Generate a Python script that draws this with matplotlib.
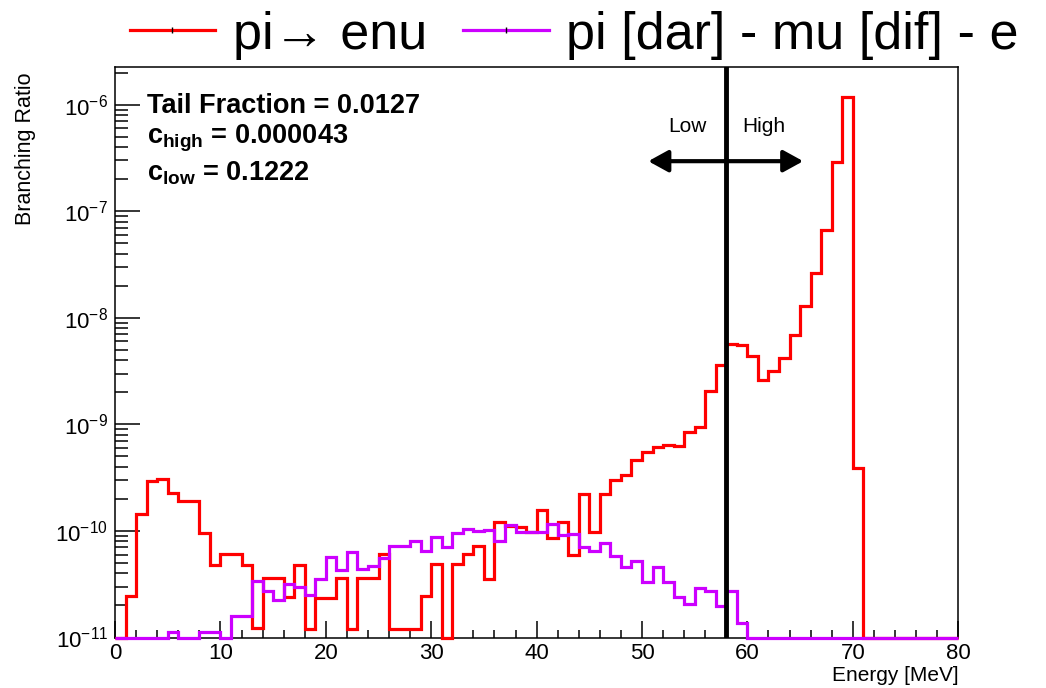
import numpy as np
import matplotlib
matplotlib.use("Agg")
import matplotlib.pyplot as plt
from matplotlib.lines import Line2D
from matplotlib.ticker import LogLocator, NullFormatter, MultipleLocator

plt.rcParams["font.family"] = ["Liberation Sans", "DejaVu Sans"]
plt.rcParams["mathtext.fontset"] = "custom"
plt.rcParams["mathtext.rm"] = "Liberation Sans"
plt.rcParams["mathtext.it"] = "Liberation Sans:italic"
plt.rcParams["mathtext.bf"] = "Liberation Sans:bold"

# 1 MeV bins, 0..80
edges = np.arange(0, 81, 1)

pi_enu = [
    0, 2.45e-11, 1.45e-10, 2.92e-10, 3.04e-10, 2.28e-10, 1.93e-10, 1.93e-10, 9.5e-11, 4.8e-11,
    6.07e-11, 6.07e-11, 4.8e-11, 1.22e-11, 3.65e-11, 3.65e-11, 2.4e-11, 4.75e-11, 1.21e-11, 2.34e-11,
    2.34e-11, 3.63e-11, 1.21e-11, 3.63e-11, 3.63e-11, 6.07e-11, 1.21e-11, 1.21e-11, 1.21e-11, 2.45e-11,
    4.85e-11, 0, 4.85e-11, 6.07e-11, 7.27e-11, 3.57e-11, 1.2e-10, 1.12e-10, 1.08e-10, 9.7e-11,
    1.57e-10, 8.5e-11, 1.2e-10, 6.0e-11, 2.2e-10, 9.75e-11, 2.2e-10, 3.02e-10, 3.36e-10, 4.68e-10,
    5.56e-10, 6.14e-10, 6.4e-10, 6.2e-10, 8.41e-10, 9.45e-10, 2.04e-9, 3.63e-9, 5.73e-9, 5.5e-9,
    4.4e-9, 2.61e-9, 3.16e-9, 4.18e-9, 6.87e-9, 1.28e-8, 2.64e-8, 6.73e-8, 2.9e-7, 1.19e-6,
    3.9e-10, 0, 0, 0, 0, 0, 0, 0, 0, 0,
]

pi_mu_e = [
    0, 0, 0, 0, 0, 1.12e-11, 0, 0, 1.12e-11, 1.12e-11,
    0, 1.6e-11, 1.6e-11, 3.38e-11, 2.72e-11, 2.25e-11, 3.15e-11, 2.95e-11, 2.48e-11, 3.54e-11,
    5.68e-11, 4.28e-11, 6.33e-11, 4.35e-11, 4.65e-11, 5.58e-11, 7.2e-11, 7.3e-11, 8.1e-11, 6.5e-11,
    8.8e-11, 7.1e-11, 9.6e-11, 1.04e-10, 1.0e-10, 1.01e-10, 8.1e-11, 1.14e-10, 9.7e-11, 9.7e-11,
    9.8e-11, 1.17e-10, 9.1e-11, 9.3e-11, 7.1e-11, 6.5e-11, 7.7e-11, 5.8e-11, 4.6e-11, 5.25e-11,
    3.33e-11, 4.6e-11, 3.33e-11, 2.42e-11, 2.06e-11, 2.93e-11, 2.75e-11, 1.99e-11, 2.75e-11, 1.36e-11,
    0, 0, 0, 0, 0, 0, 0, 0, 0, 0,
    0, 0, 0, 0, 0, 0, 0, 0, 0, 0,
]

labels = ["pi\u2192 enu", "pi [dar] - mu [dif] - e"]
colors = ["#ff0000", "#cc00ff"]

cut = 58.0
ymin, ymax = 1e-11, 2.25e-6

fig = plt.figure(figsize=(10.46, 6.88), dpi=100)
ax = fig.add_axes([0.110, 0.0734, 0.806, 0.829])

# empty bins sit on the frame floor, like ROOT draws them
for vals, c, z in [(pi_enu, colors[0], 3), (pi_mu_e, colors[1], 4)]:
    v = np.clip(np.asarray(vals, float), ymin, None)
    st = ax.stairs(v, edges, baseline=None, color=c, lw=2.3, zorder=z)
    st.set_clip_on(False)
    st.set_joinstyle("miter")

ax.axvline(cut, color="k", lw=3.5, zorder=5)

ax.annotate("", xy=(50.6, 2.95e-7), xytext=(65.3, 2.95e-7),
            arrowprops=dict(arrowstyle="<|-|>,head_length=0.4,head_width=0.22",
                            mutation_scale=30, lw=3, color="k",
                            shrinkA=0, shrinkB=0), zorder=6)
ax.text(54.3, 6.3e-7, "Low", ha="center", va="center", fontsize=15)
ax.text(61.6, 6.3e-7, "High", ha="center", va="center", fontsize=15)

ax.text(0.038, 0.9197, "Tail Fraction = 0.0127", transform=ax.transAxes,
        fontsize=19.5, fontweight="bold", va="baseline")
ax.text(0.038, 0.866, r"$\mathbf{c_{high}}$ = 0.000043", transform=ax.transAxes,
        fontsize=19.5, fontweight="bold", va="baseline")
ax.text(0.038, 0.801, r"$\mathbf{c_{low}}$ = 0.1222", transform=ax.transAxes,
        fontsize=19.5, fontweight="bold", va="baseline")

ax.set_yscale("log")
ax.set_xlim(0, 80)
ax.set_ylim(ymin, ymax)
ax.xaxis.set_major_locator(MultipleLocator(10))
ax.xaxis.set_minor_locator(MultipleLocator(2))
ax.yaxis.set_major_locator(LogLocator(base=10, numticks=20))
ax.yaxis.set_minor_locator(LogLocator(base=10, subs=np.arange(2, 10), numticks=20))
ax.yaxis.set_minor_formatter(NullFormatter())

ax.tick_params(axis="both", which="both", direction="in", top=False, right=False,
               width=1.1, labelsize=16)
ax.tick_params(axis="x", which="major", length=12, pad=4)
ax.tick_params(axis="x", which="minor", length=6)
ax.tick_params(axis="y", which="major", length=18, pad=5)
ax.tick_params(axis="y", which="minor", length=9.5)
for s in ax.spines.values():
    s.set_linewidth(1.1)

ax.set_xlabel("Energy [MeV]", loc="right", fontsize=15)
ax.xaxis.set_label_coords(1.0, -0.05)
ax.set_ylabel("Branching Ratio", loc="top", fontsize=15.5)
ax.yaxis.set_label_coords(-0.094, 0.99)

handles = [Line2D([], [], color=c, lw=2.3, marker="|", markersize=4,
                  markeredgecolor="k", markeredgewidth=1) for c in colors]
fig.legend(handles, labels, loc="center", bbox_to_anchor=(0.549, 0.949),
           ncol=2, frameon=False, fontsize=37.5, handlelength=1.65,
           handletextpad=0.33, columnspacing=0.7, borderpad=0)

fig.savefig("out.png", dpi=100)
